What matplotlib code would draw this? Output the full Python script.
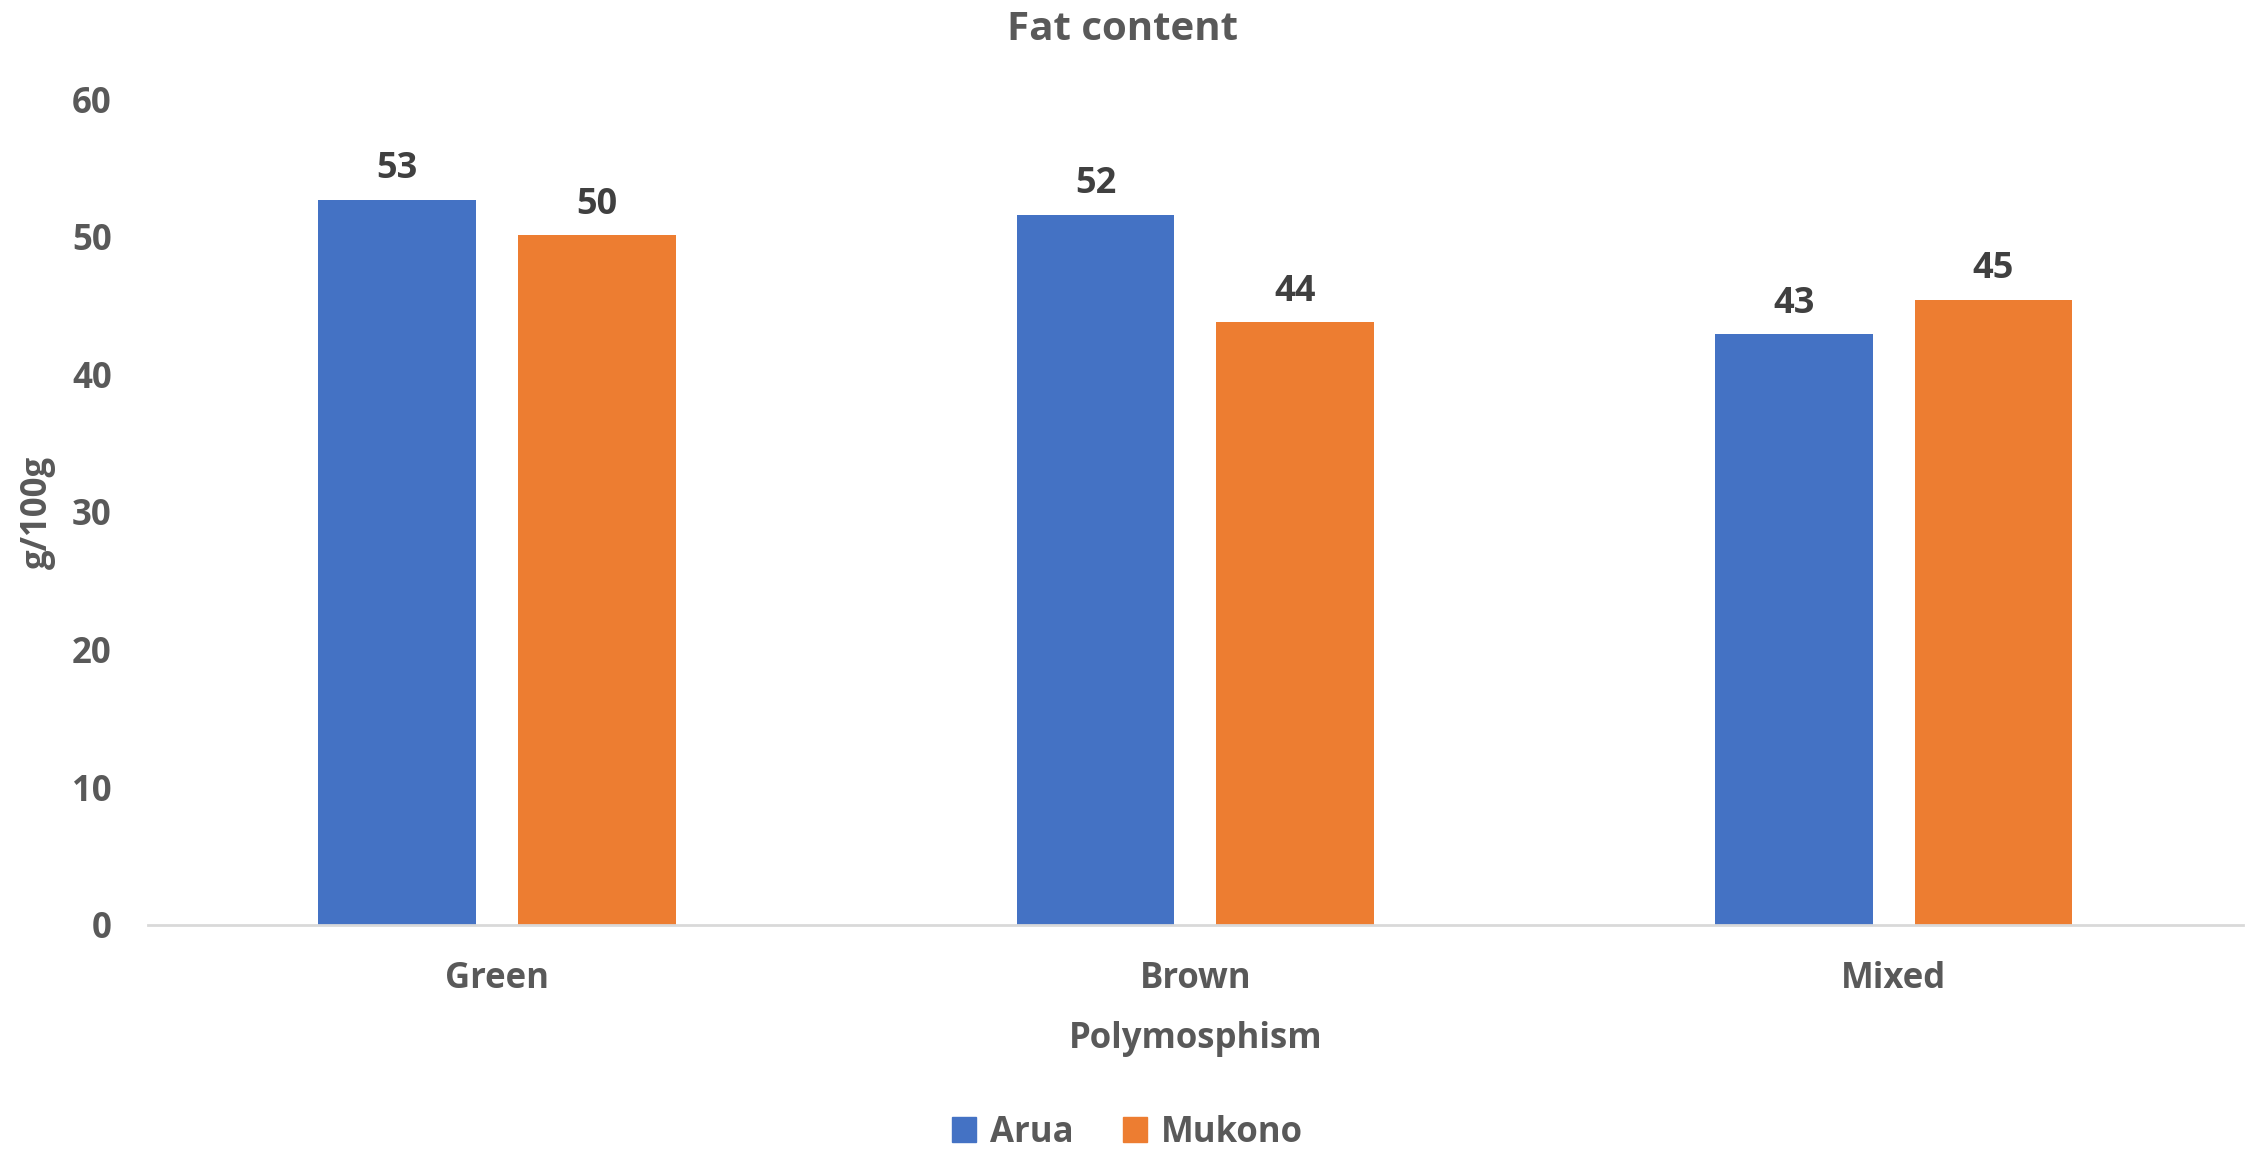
import numpy as np
import matplotlib.pyplot as plt
from matplotlib.patches import Patch

plt.rcParams['font.family'] = ['Open Sans', 'DejaVu Sans']
plt.rcParams['font.weight'] = 'bold'

# Fett per 100 g, per sort och odlingsplats
categories = ['Green', 'Brown', 'Mixed']
arua = [52.7, 51.6, 42.9]
mukono = [50.1, 43.8, 45.4]
yticks = [0, 10, 20, 30, 40, 50, 60]

blue = '#4472C4'
orange = '#ED7D31'
grey = '#595959'
fs = 25

fig = plt.figure(figsize=(22.55, 11.5), dpi=100)
ax = fig.add_axes([0.0656, 0.1957, 0.929, 0.7182])

x = np.arange(len(categories))
w = 0.226
off = 0.143
b1 = ax.bar(x - off, arua, w, color=blue, label='Arua')
b2 = ax.bar(x + off, mukono, w, color=orange, label='Mukono')

for bars in (b1, b2):
    for b in bars:
        h = b.get_height()
        ax.annotate(f'{h:.0f}', (b.get_x() + b.get_width() / 2, h),
                    xytext=(0, 9), textcoords='offset points',
                    ha='center', va='bottom', fontsize=fs + 1,
                    fontweight='bold', color='#404040')

ax.set_xlim(-0.5, 2.5)
ax.set_ylim(0, 60)
ax.set_yticks(yticks)
ax.set_xticks(x)
ax.set_xticklabels(categories)
ax.tick_params(axis='both', length=0, labelsize=fs, colors=grey)
ax.tick_params(axis='y', pad=26)
ax.tick_params(axis='x', pad=26)
for s in ['top', 'right', 'left']:
    ax.spines[s].set_visible(False)
ax.spines['bottom'].set_color('#D9D9D9')
ax.spines['bottom'].set_linewidth(2)

ax.set_xlabel('Polymosphism', fontsize=fs, color=grey, fontweight='bold', labelpad=17)
ax.set_ylabel('g/100g', fontsize=fs, color=grey, fontweight='bold', labelpad=12)
fig.text(0.4978, 0.974, 'Fat content', ha='center', va='center',
         fontsize=29, color=grey, fontweight='bold')

handles = [Patch(color=blue, label='Arua'), Patch(color=orange, label='Mukono')]
fig.legend(handles=handles, loc='center', bbox_to_anchor=(0.5, 0.015),
           ncol=2, frameon=False, fontsize=fs, labelcolor=grey,
           handlelength=0.7, handleheight=0.7, handletextpad=0.4,
           columnspacing=1.4)

fig.savefig('out.png', dpi=100)
